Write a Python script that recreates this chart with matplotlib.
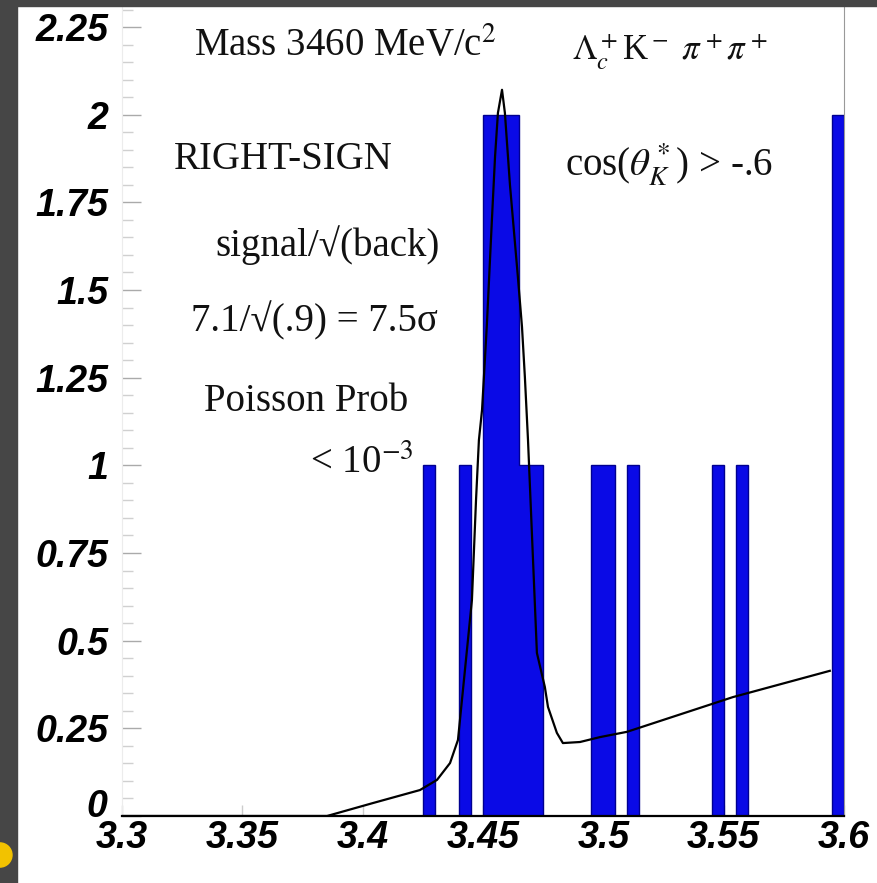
import numpy as np
import matplotlib
matplotlib.use('Agg')
import matplotlib.pyplot as plt
from matplotlib.patches import Rectangle, Circle

# histogram: left edge of filled 5 MeV bins and their entries
bin_lo = [3.425, 3.44, 3.45, 3.455, 3.46, 3.465, 3.47, 3.495, 3.50, 3.51, 3.545, 3.555, 3.595]
counts = [1, 1, 2, 2, 2, 1, 1, 1, 1, 1, 1, 1, 2]
bin_width = 0.005

# fitted curve
fit_x = [3.3, 3.3852, 3.4043, 3.4238, 3.4309, 3.4363, 3.4396, 3.4454, 3.4471, 3.4483, 3.4496,
         3.4516, 3.4537, 3.4550, 3.4562, 3.4579, 3.4591, 3.4612, 3.4645, 3.4662, 3.4674,
         3.4687, 3.4724, 3.4757, 3.4770, 3.4807, 3.4832, 3.4903, 3.4986, 3.5098, 3.5538, 3.5941]
fit_y = [0.0, 0.0, 0.037, 0.074, 0.103, 0.151, 0.217, 0.616, 0.901, 1.072, 1.158,
         1.40, 1.70, 1.88, 2.005, 2.071, 2.005, 1.80, 1.537, 1.395, 1.252,
         1.072, 0.465, 0.368, 0.311, 0.237, 0.208, 0.211, 0.225, 0.240, 0.339, 0.414]

yticks = [0, 0.25, 0.5, 0.75, 1, 1.25, 1.5, 1.75, 2, 2.25]
ytick_labels = ['0', '0.25', '0.5', '0.75', '1', '1.25', '1.5', '1.75', '2', '2.25']
xticks = [3.3, 3.35, 3.4, 3.45, 3.5, 3.55, 3.6]
xtick_labels = ['3.3', '3.35', '3.4', '3.45', '3.5', '3.55', '3.6']

plt.rcParams['mathtext.fontset'] = 'stix'
serif = ['Liberation Serif', 'DejaVu Serif']
tick_font = dict(family='Liberation Sans', weight='bold', style='italic', size=27)

fig = plt.figure(figsize=(8.77, 8.83), dpi=100)
fig.patch.set_facecolor('white')
ax = fig.add_axes([122 / 877, 67 / 883, 722 / 877, 810 / 883])

# full histogram over the range
edges = np.round(np.arange(3.3, 3.6 + bin_width / 2, bin_width), 4)
hist = np.zeros(len(edges) - 1)
for lo, c in zip(bin_lo, counts):
    hist[int(round((lo - 3.3) / bin_width))] = c
ax.stairs(hist, edges, fill=True, facecolor='#0a0ae6', edgecolor='#000090', linewidth=1.0, zorder=2)

ax.plot(fit_x, fit_y, color='black', linewidth=1.6, zorder=3)

ax.set_xlim(3.3, 3.6)
ax.set_ylim(0, 2.31)

# the "0" label sits a little above its tick so it clears "3.3"
ax.set_yticks(yticks)
ax.set_yticklabels([''] + ytick_labels[1:], fontdict=tick_font)
ax.text(-0.021, 0.011, ytick_labels[0], transform=ax.transAxes, ha='right', va='center', **tick_font)
ax.set_yticks(np.arange(0, 2.31, 0.05), minor=True)
ax.set_xticks(xticks)
ax.set_xticklabels(xtick_labels, fontdict=tick_font)

ax.tick_params(axis='y', which='major', direction='in', length=14, width=1, color='#aaaaaa', pad=10)
ax.tick_params(axis='y', which='minor', direction='in', length=8, width=1, color='#d0d0d0')
ax.tick_params(axis='x', which='major', direction='in', length=8, width=1, color='#cccccc', pad=3)

ax.spines['top'].set_visible(False)
ax.spines['left'].set_color('#ececec')
ax.spines['right'].set_color('#999999')
ax.spines['right'].set_linewidth(0.8)
ax.spines['bottom'].set_color('black')
ax.spines['bottom'].set_linewidth(1.6)
ax.spines['bottom'].set_zorder(4)

txt = dict(transform=ax.transAxes, ha='center', va='center', fontsize=28, family=serif, color='#111111')
ax.text(0.310, 0.951, r'Mass 3460 MeV/c$^2$', **txt)
ax.text(0.759, 0.943, r'$\Lambda_c^+$K$^-$ $\pi^+\pi^+$', **{**txt, 'fontsize': 25})
ax.text(0.223, 0.810, 'RIGHT-SIGN', **txt)
ax.text(0.758, 0.804, r'cos($\theta_K^*$) > -.6', **txt)
ax.text(0.285, 0.705, 'signal/√(back)', **txt)
ax.text(0.267, 0.612, '7.1/√(.9) = 7.5σ', **txt)
ax.text(0.255, 0.512, 'Poisson Prob', **txt)
ax.text(0.332, 0.435, r'< 10$^{-3}$', **txt)

# dark frame of the scanned page
fig.patches.append(Rectangle((0, 0), 17 / 877, 1, transform=fig.transFigure, color='#464646', zorder=10))
fig.patches.append(Rectangle((0, 877 / 883), 1, 6 / 883, transform=fig.transFigure, color='#464646', zorder=10))
fig.patches.append(Circle((0.0, 28 / 883), 12 / 877, transform=fig.transFigure, color='#f2c200', zorder=11))

fig.savefig('out.png', dpi=100)
